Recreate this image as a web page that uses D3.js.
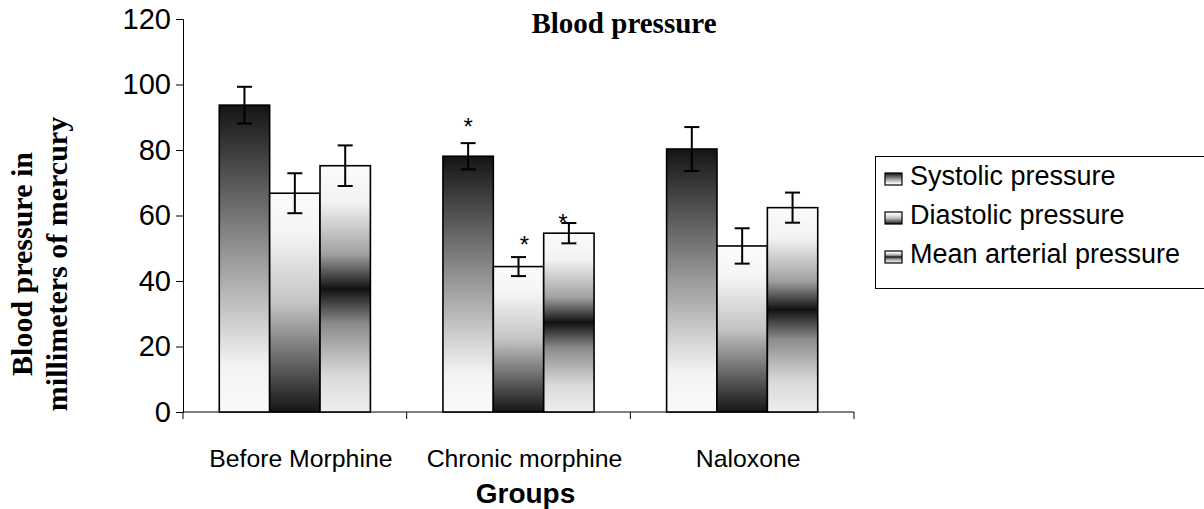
<!DOCTYPE html>
<html>
<head>
<meta charset="utf-8">
<script src="https://cdn.jsdelivr.net/npm/d3@7"></script>
<style>
  html, body { margin: 0; padding: 0; background: #fff; }
  svg { display: block; }
</style>
</head>
<body>
<svg id="chart" width="1204" height="509"></svg>
<script>
// ---- data ----
const categories = ["Before Morphine", "Chronic morphine", "Naloxone"];
const seriesNames = ["Systolic pressure", "Diastolic pressure", "Mean arterial pressure"];
const systolic  = [93.7, 78.1, 80.3];
const diastolic = [66.8, 44.4, 50.7];
const meanArt   = [75.2, 54.6, 62.4];
const systolicErr  = [5.6, 4.0, 6.7];
const diastolicErr = [6.1, 2.9, 5.4];
const meanArtErr   = [6.2, 3.1, 4.6];
// significance markers (*) : level in mmHg where the asterisk sits, null = none
const systolicSig  = [null, 88.9, null];
const diastolicSig = [null, 52.8, null];
const meanArtSig   = [null, 59.5, null];
const yTicks = [0, 20, 40, 60, 80, 100, 120];

const seriesValues = [systolic, diastolic, meanArt];
const seriesErrs = [systolicErr, diastolicErr, meanArtErr];
const seriesSig = [systolicSig, diastolicSig, meanArtSig];

const rows = [];
categories.forEach((c, ci) => {
  seriesNames.forEach((s, si) => {
    rows.push({cat: c, series: s, si, value: seriesValues[si][ci], err: seriesErrs[si][ci], sig: seriesSig[si][ci]});
  });
});

// ---- layout ----
const svg = d3.select("#chart");
const sans = "Arial, 'Liberation Sans', sans-serif";
const serif = "'Times New Roman', 'Liberation Serif', serif";
const plotL = 183, plotR = 854, plotT = 19, plotB = 412;

const y = d3.scaleLinear().domain([0, 120]).range([plotB, plotT]);
const x0 = d3.scaleBand().domain(categories).range([plotL, plotR]).padding(0);
const x1 = d3.scaleBand().domain(seriesNames).range([0, x0.bandwidth()]).paddingInner(0).paddingOuter(0.72);

// ---- gradients ----
const defs = svg.append("defs");
const gradStops = [
  [[0, "#141414"], [0.5, "#9a9a9a"], [0.85, "#f3f3f3"], [1, "#fafafa"]],
  [[0, "#fbfbfb"], [0.18, "#f5f5f5"], [0.5, "#c4c4c4"], [1, "#151515"]],
  [[0, "#fbfbfb"], [0.15, "#f2f2f2"], [0.36, "#a0a0a0"], [0.5, "#111111"], [0.64, "#8a8a8a"], [0.85, "#d9d9d9"], [1, "#eeeeee"]]
];
gradStops.forEach((stops, i) => {
  const g = defs.append("linearGradient").attr("id", "g" + i)
    .attr("x1", 0).attr("y1", 0).attr("x2", 0).attr("y2", 1);
  stops.forEach(([o, c]) => g.append("stop").attr("offset", o).attr("stop-color", c));
});

// ---- title ----
svg.append("text").attr("x", 624).attr("y", 33).attr("text-anchor", "middle")
  .attr("font-family", serif).attr("font-weight", "bold").attr("font-size", 29)
  .text("Blood pressure");

// ---- y axis ----
const yAxis = d3.axisLeft(y).tickValues(yTicks).tickSize(7).tickPadding(5).tickFormat(d3.format("d"));
const gy = svg.append("g").attr("transform", `translate(${plotL},0)`).call(yAxis);
gy.select(".domain").attr("stroke", "#000").attr("stroke-width", 1);
gy.selectAll(".tick line").attr("stroke", "#000");
gy.selectAll(".tick text").attr("font-family", sans).attr("font-size", 29).attr("fill", "#000");

// ---- x axis ----
const gx = svg.append("g").attr("transform", `translate(0,${plotB})`);
gx.append("line").attr("x1", plotL).attr("x2", plotR).attr("y1", 0).attr("y2", 0).attr("stroke", "#000");
const boundaries = categories.map(c => x0(c)).concat([x0(categories[categories.length - 1]) + x0.bandwidth()]);
gx.selectAll("line.tk").data(boundaries).join("line").attr("class", "tk")
  .attr("x1", d => d).attr("x2", d => d).attr("y1", 0).attr("y2", 7).attr("stroke", "#000");
gx.selectAll("text.cat").data(categories).join("text").attr("class", "cat")
  .attr("x", d => x0(d) + x0.bandwidth() / 2 + 6).attr("y", 55)
  .attr("text-anchor", "middle").attr("font-family", sans).attr("font-size", 24.8)
  .text(d => d);

svg.append("text").attr("x", (plotL + plotR) / 2 + 7).attr("y", 503).attr("text-anchor", "middle")
  .attr("font-family", sans).attr("font-weight", "bold").attr("font-size", 28)
  .text("Groups");

// ---- y title ----
const yt = svg.append("g").attr("transform", "translate(0,264) rotate(-90)");
yt.append("text").attr("x", 0).attr("y", 32).attr("text-anchor", "middle")
  .attr("font-family", serif).attr("font-weight", "bold").attr("font-size", 30)
  .text("Blood pressure in");
yt.append("text").attr("x", 0).attr("y", 67).attr("text-anchor", "middle")
  .attr("font-family", serif).attr("font-weight", "bold").attr("font-size", 30)
  .text("millimeters of mercury");

// ---- bars ----
const bars = svg.append("g");
bars.selectAll("rect").data(rows).join("rect")
  .attr("x", d => x0(d.cat) + x1(d.series))
  .attr("y", d => y(d.value))
  .attr("width", x1.bandwidth())
  .attr("height", d => y(0) - y(d.value))
  .attr("fill", d => `url(#g${d.si})`)
  .attr("stroke", "#000").attr("stroke-width", 1.6);

// ---- error bars ----
const eg = svg.append("g").attr("stroke", "#000").attr("stroke-width", 2);
rows.forEach(d => {
  const cx = x0(d.cat) + x1(d.series) + x1.bandwidth() / 2;
  eg.append("line").attr("x1", cx).attr("x2", cx).attr("y1", y(d.value + d.err)).attr("y2", y(d.value - d.err));
  eg.append("line").attr("x1", cx - 7.5).attr("x2", cx + 7.5).attr("y1", y(d.value + d.err)).attr("y2", y(d.value + d.err));
  eg.append("line").attr("x1", cx - 7.5).attr("x2", cx + 7.5).attr("y1", y(d.value - d.err)).attr("y2", y(d.value - d.err));
});

// ---- significance asterisks ----
svg.append("g").selectAll("text").data(rows.filter(d => d.sig !== null)).join("text")
  .attr("x", d => x0(d.cat) + x1(d.series) + x1.bandwidth() / 2 + (d.si === 1 ? 6 : (d.si === 2 ? -6 : 0)))
  .attr("y", d => y(d.sig) + 14)
  .attr("text-anchor", "middle").attr("font-family", sans).attr("font-size", 24)
  .text("*");

// ---- legend ----
const lg = svg.append("g");
lg.append("rect").attr("x", 875.5).attr("y", 156.5).attr("width", 400).attr("height", 132)
  .attr("fill", "#fff").attr("stroke", "#000").attr("stroke-width", 1);
const lgItems = lg.selectAll("g.item").data(seriesNames).join("g").attr("class", "item")
  .attr("transform", (d, i) => `translate(885,${185 + i * 39})`);
lgItems.append("rect").attr("x", 0).attr("y", -12).attr("width", 17).attr("height", 12)
  .attr("fill", (d, i) => `url(#g${i})`).attr("stroke", "#000").attr("stroke-width", 1.2);
lgItems.append("text").attr("x", 25).attr("y", 0)
  .attr("font-family", sans).attr("font-size", 27).text(d => d);
</script>
</body>
</html>
